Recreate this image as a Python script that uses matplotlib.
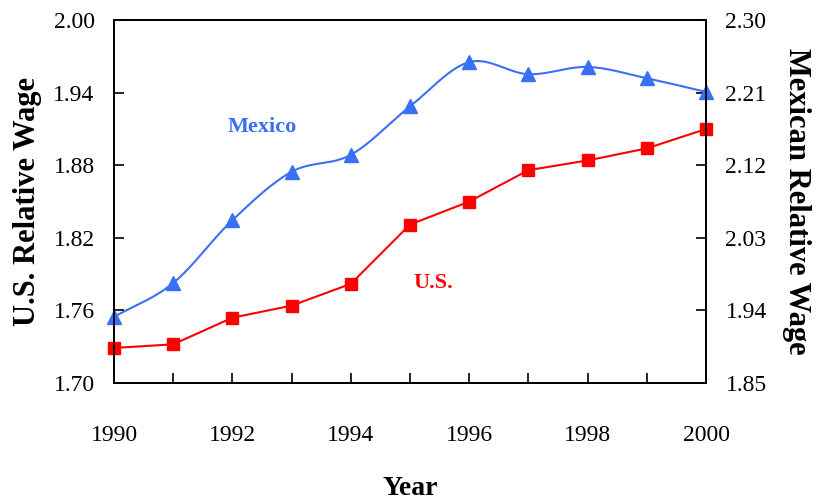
import numpy as np
import matplotlib.pyplot as plt

years = [1990, 1991, 1992, 1993, 1994, 1995, 1996, 1997, 1998, 1999, 2000]
us_wage = [1.729, 1.732, 1.754, 1.764, 1.782, 1.831, 1.850, 1.876, 1.884, 1.894, 1.910]
mex_wage = [1.932, 1.974, 2.052, 2.112, 2.133, 2.193, 2.248, 2.233, 2.242, 2.228, 2.211]

left_ticks = [1.70, 1.76, 1.82, 1.88, 1.94, 2.00]
right_ticks = [1.85, 1.94, 2.03, 2.12, 2.21, 2.30]

BLUE = '#3a6ff7'
RED = '#ff0000'


def smooth(x, y, n=30):
    # Excel-style smoothed line (Catmull-Rom through the points)
    x = np.asarray(x, float)
    y = np.asarray(y, float)
    px = np.concatenate([[2 * x[0] - x[1]], x, [2 * x[-1] - x[-2]]])
    py = np.concatenate([[2 * y[0] - y[1]], y, [2 * y[-1] - y[-2]]])
    xs, ys = [], []
    t = np.linspace(0, 1, n)
    for i in range(1, len(px) - 2):
        for p, out in ((px, xs), (py, ys)):
            p0, p1, p2, p3 = p[i - 1], p[i], p[i + 1], p[i + 2]
            out.extend(0.5 * ((2 * p1) + (-p0 + p2) * t
                              + (2 * p0 - 5 * p1 + 4 * p2 - p3) * t ** 2
                              + (-p0 + 3 * p1 - 3 * p2 + p3) * t ** 3))
    return np.array(xs), np.array(ys)


plt.rcParams['font.family'] = ['Liberation Serif', 'DejaVu Serif']

fig = plt.figure(figsize=(8.16, 5.04), dpi=100)
ax = fig.add_axes([0.1397, 0.240, 0.7255, 0.720])
ax2 = ax.twinx()

ax.plot(years, us_wage, color=RED, lw=1.5, marker='s', markersize=8, clip_on=False, zorder=3)
sx, sy = smooth(years, mex_wage)
ax2.plot(sx, sy, color=BLUE, lw=1.5, clip_on=False)
ax2.plot(years, mex_wage, ls='none', color=BLUE, marker='^', markersize=10, clip_on=False)

ax.set_xlim(1990, 2000)
ax.set_ylim(1.70, 2.00)
ax2.set_ylim(1.85, 2.30)
ax.set_xticks(range(1990, 2001, 2))
ax.set_xticks(range(1990, 2001), minor=True)
ax.set_yticks(left_ticks)
ax.set_yticklabels([f'{v:.2f}' for v in left_ticks])
ax2.set_yticks(right_ticks)
ax2.set_yticklabels([f'{v:.2f}' for v in right_ticks])

ax.tick_params(axis='both', which='both', direction='in', labelsize=17, width=1.2)
ax.tick_params(axis='y', length=7, pad=14)
ax.tick_params(axis='x', which='both', length=7, pad=30)
ax2.tick_params(axis='y', direction='in', length=7, labelsize=17, pad=14, width=1.2)
for a in (ax, ax2):
    for s in a.spines.values():
        s.set_linewidth(1.3)

ax.set_xlabel('Year', fontsize=20, fontweight='bold', labelpad=22)
ax.set_ylabel('U.S. Relative Wage', fontsize=22, fontweight='bold', labelpad=8)
ax2.set_ylabel('Mexican Relative Wage', fontsize=22, fontweight='bold', rotation=270, labelpad=32)

ax.text(1992.5, 1.9116, 'Mexico', color=BLUE, fontsize=16, fontweight='bold', ha='center', va='center')
ax.text(1995.4, 1.7826, 'U.S.', color=RED, fontsize=16, fontweight='bold', ha='center', va='center')

fig.savefig('out.png', dpi=100)
